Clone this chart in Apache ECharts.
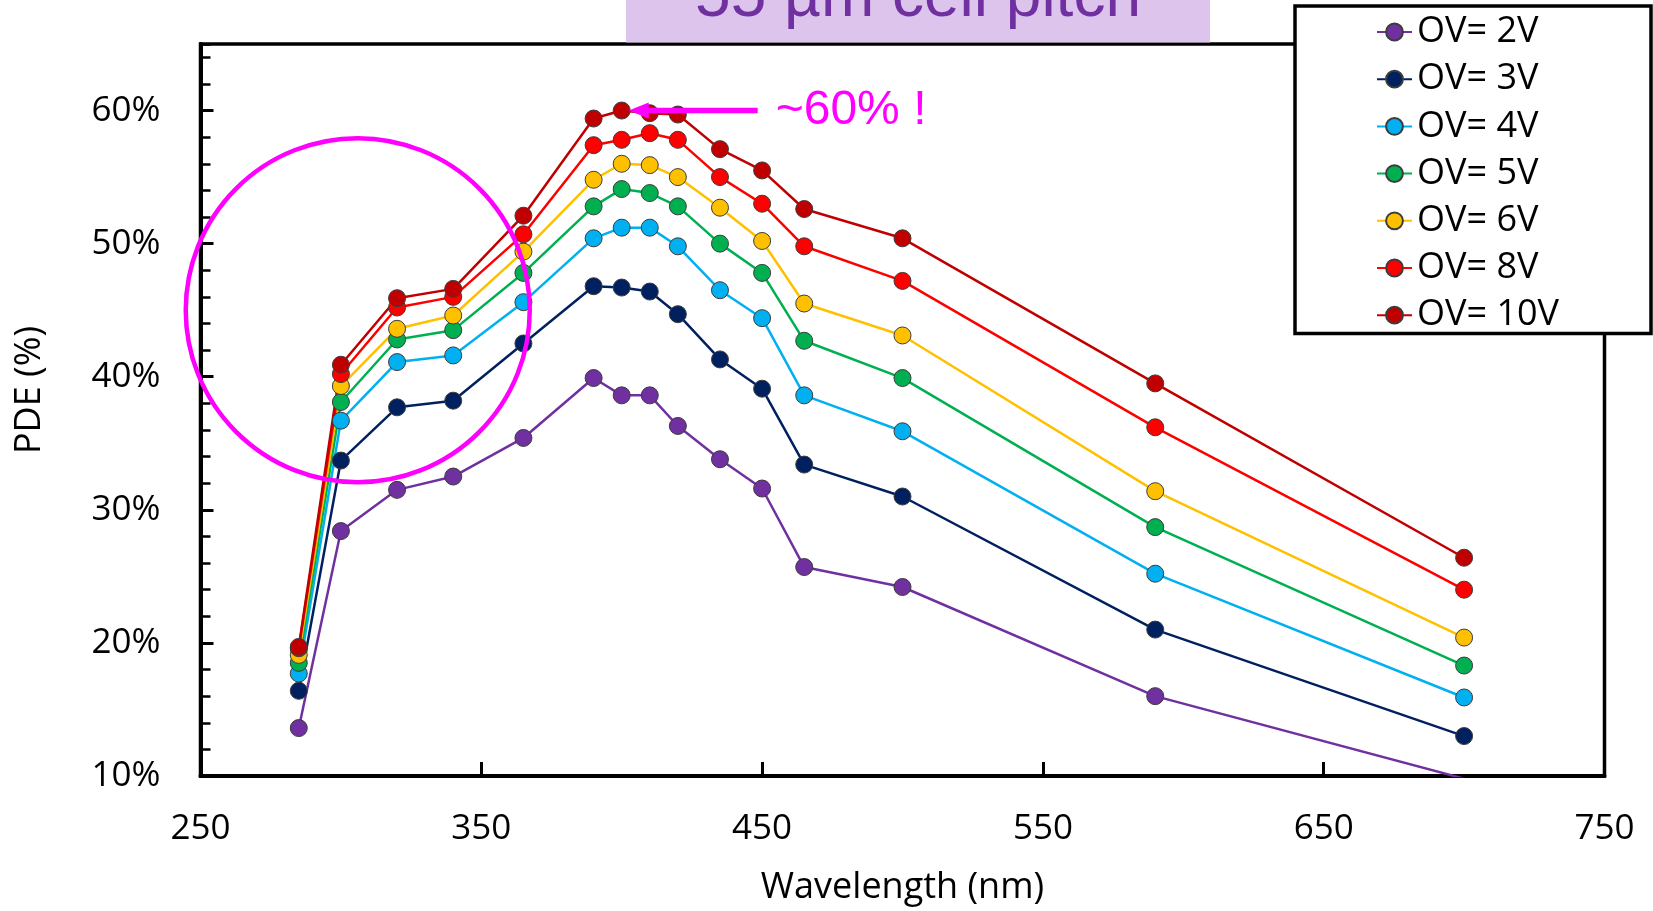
<!DOCTYPE html>
<html>
<head>
<meta charset="utf-8">
<title>PDE vs wavelength</title>
<script src="https://cdn.jsdelivr.net/npm/echarts@6/dist/echarts.min.js"></script>
<style>
  html, body { margin: 0; padding: 0; background: #fff; }
  #chart { width: 1653px; height: 911px; }
</style>
</head>
<body>
<div id="chart"></div>
<script>
// Wavelengths (nm) at which the PDE was measured
const wavelengths = [285, 300, 320, 340, 365, 390, 400, 410, 420, 435, 450, 465, 500, 590, 700];

// PDE (%) per over-voltage
const ov2  = [13.6, 28.4, 31.5, 32.5, 35.4, 39.9, 38.6, 38.6, 36.3, 33.8, 31.6, 25.7, 24.2, 16.0, 9.8];
const ov3  = [16.4, 33.7, 37.7, 38.2, 42.5, 46.8, 46.7, 46.4, 44.7, 41.3, 39.1, 33.4, 31.0, 21.0, 13.0];
const ov4  = [17.7, 36.7, 41.1, 41.6, 45.6, 50.4, 51.2, 51.2, 49.8, 46.5, 44.4, 38.6, 35.9, 25.2, 15.9];
const ov5  = [18.5, 38.1, 42.8, 43.5, 47.8, 52.8, 54.1, 53.8, 52.8, 50.0, 47.8, 42.7, 39.9, 28.7, 18.3];
const ov6  = [19.1, 39.3, 43.6, 44.6, 49.4, 54.8, 56.0, 55.9, 55.0, 52.7, 50.2, 45.5, 43.1, 31.4, 20.4];
const ov8  = [19.6, 40.2, 45.2, 46.0, 50.7, 57.4, 57.8, 58.3, 57.8, 55.0, 53.0, 49.8, 47.2, 36.2, 24.0];
const ov10 = [19.7, 40.9, 45.9, 46.6, 52.1, 59.4, 60.0, 59.8, 59.7, 57.1, 55.5, 52.6, 50.4, 39.5, 26.4];

const seriesNames = ['OV= 2V', 'OV= 3V', 'OV= 4V', 'OV= 5V', 'OV= 6V', 'OV= 8V', 'OV= 10V'];
const seriesValues = [ov2, ov3, ov4, ov5, ov6, ov8, ov10];
const seriesColors = ['#7030a0', '#002060', '#00b0f0', '#00b050', '#ffc000', '#ff0000', '#c00000'];

// Axis tick settings
const xTicks = { min: 250, max: 750, step: 100 };
const yTicks = { min: 10, max: 65, step: 10, minorStep: 2, lastLabel: 60 };

const titleText = '55 µm cell pitch';
const noteText = '~60% !';

const FONT = '"Open Sans", "Noto Sans", sans-serif';
const ARIAL = '"Liberation Sans", Arial, sans-serif';

const chart = echarts.init(document.getElementById('chart'), null, { renderer: 'canvas' });

const series = seriesNames.map((name, i) => ({
  name: name,
  type: 'line',
  data: wavelengths.map((w, k) => [w, seriesValues[i][k]]),
  symbol: 'circle',
  symbolSize: 17,
  clip: true,
  lineStyle: { color: seriesColors[i], width: 2.5 },
  itemStyle: { color: seriesColors[i], borderColor: '#3c3c3c', borderWidth: 1 },
  emphasis: { disabled: true }
}));

chart.setOption({
  animation: false,
  backgroundColor: '#ffffff',
  grid: {
    left: 200.5, right: 48.5, top: 44, bottom: 134.3,
    show: true, borderColor: '#000', borderWidth: 3.5, backgroundColor: 'transparent'
  },
  xAxis: {
    type: 'value',
    min: xTicks.min, max: xTicks.max, interval: xTicks.step,
    name: 'Wavelength (nm)',
    nameLocation: 'middle',
    nameGap: 94,
    nameTextStyle: { fontFamily: FONT, fontSize: 36, color: '#000' },
    axisLine: { show: true, lineStyle: { color: '#000', width: 4 } },
    axisTick: { show: true, inside: true, length: 14, lineStyle: { color: '#000', width: 3 } },
    axisLabel: { margin: 36, fontFamily: FONT, fontSize: 35, color: '#000' },
    splitLine: { show: false }
  },
  yAxis: [
    {
      type: 'value',
      min: yTicks.min, max: yTicks.max, interval: yTicks.step,
      position: 'left',
      name: 'PDE (%)',
      nameLocation: 'middle',
      nameRotate: 90,
      nameGap: 153,
      nameTextStyle: { fontFamily: FONT, fontSize: 36, color: '#000', padding: [0, 0, 0, 40] },
      axisLine: { show: true, lineStyle: { color: '#000', width: 4 } },
      axisTick: { show: true, inside: true, length: 13, lineStyle: { color: '#000', width: 3 } },
      axisLabel: {
        margin: 40, fontFamily: FONT, fontSize: 35, color: '#000', showMaxLabel: false,
        formatter: v => (v > yTicks.lastLabel ? '' : v + '%')
      },
      splitLine: { show: false }
    },
    {
      // minor ticks every 2 %
      type: 'value',
      min: yTicks.min, max: yTicks.max, interval: yTicks.minorStep,
      position: 'left',
      axisLine: { show: false },
      axisTick: { show: true, inside: true, length: 10, lineStyle: { color: '#000', width: 2.5 } },
      axisLabel: { show: false },
      splitLine: { show: false }
    }
  ],
  legend: {
    orient: 'vertical',
    left: 1376, top: 14,
    itemWidth: 35, itemHeight: 21, itemGap: 11.2,
    padding: 0,
    selectedMode: false,
    z: 100,
    textStyle: { fontFamily: FONT, fontSize: 36, color: '#000', lineHeight: 36 },
    data: seriesNames
  },
  series: series
});

// Annotations: title banner, legend frame, highlight ring and the peak arrow
const peak = chart.convertToPixel({ gridIndex: 0 }, [wavelengths[6], ov10[6]]);
const ring = chart.convertToPixel({ gridIndex: 0 }, [306, 45]);
const tipX = peak[0] + 7;
const tipY = peak[1];

chart.setOption({
  graphic: [
    { type: 'rect', z: 50, shape: { x: 626, y: -10, width: 584, height: 52.5 },
      style: { fill: '#dcc4ec' } },
    { type: 'text', z: 51,
      style: { text: titleText, x: 918, y: -2, align: 'center', verticalAlign: 'middle',
               font: '64px ' + ARIAL, fill: '#7030a0' } },
    { type: 'rect', z: 50, shape: { x: 1295, y: 6, width: 356, height: 327.5 },
      style: { fill: '#fff', stroke: '#000', lineWidth: 3.5 } },
    { type: 'circle', z: 50, shape: { cx: ring[0], cy: ring[1], r: 172 },
      style: { fill: 'none', stroke: '#ff00ff', lineWidth: 4.5 } },
    { type: 'line', z: 50, shape: { x1: tipX + 16, y1: tipY, x2: tipX + 129, y2: tipY },
      style: { stroke: '#ff00ff', lineWidth: 5.5 } },
    { type: 'polygon', z: 50,
      shape: { points: [[tipX, tipY], [tipX + 20, tipY - 8], [tipX + 20, tipY + 8]] },
      style: { fill: '#ff00ff' } },
    { type: 'text', z: 51,
      style: { text: noteText, x: tipX + 147, y: tipY + 0.5, verticalAlign: 'middle',
               font: '48px ' + ARIAL, fill: '#ff00ff' } }
  ]
});
</script>
</body>
</html>
